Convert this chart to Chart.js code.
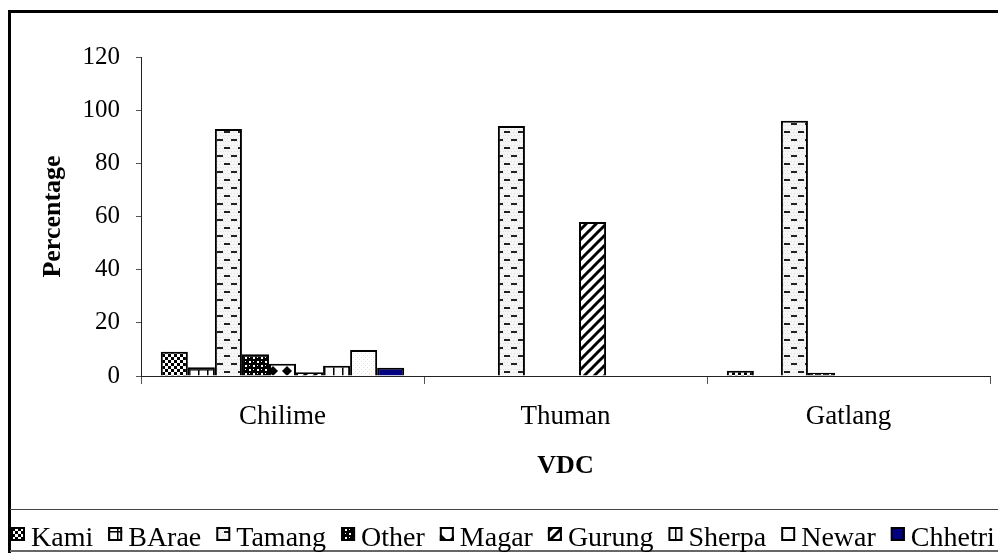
<!DOCTYPE html>
<html><head><meta charset="utf-8">
<script src="https://cdn.jsdelivr.net/npm/chart.js@4/dist/chart.umd.min.js"></script>
<style>html,body{margin:0;padding:0;background:#fff;overflow:hidden}canvas{display:block}</style>
</head><body>
<canvas id="c" width="998" height="553"></canvas>
<script>
// ---- data ----
const categories = ['Chilime', 'Thuman', 'Gatlang'];
const seriesNames = ['Kami', 'BArae', 'Tamang', 'Other', 'Magar', 'Gurung', 'Sherpa', 'Newar', 'Chhetri'];
const kami    = [9.1, null, 2.0];
const barae   = [3.3, null, null];
const tamang  = [92.9, 94.0, 96.0];
const other   = [8.2, null, 1.2];
const magar   = [4.6, null, null];
const gurung  = [1.4, 57.9, null];
const sherpa  = [3.9, null, null];
const newar   = [9.8, null, null];
const chhetri = [3.1, null, null];
const yMin = 0, yMax = 120, yStep = 20;
const xTitle = 'VDC', yTitle = 'Percentage';

const FONT = '"Liberation Serif", "Times New Roman", serif';

function makePattern(w, h, draw) {
  const c = document.createElement('canvas');
  c.width = w; c.height = h;
  const g = c.getContext('2d');
  draw(g, w, h);
  return g.createPattern(c, 'repeat');
}
const pKami = makePattern(6, 6, (g) => {
  g.fillStyle = '#fff'; g.fillRect(0, 0, 6, 6);
  g.fillStyle = '#000'; g.fillRect(0, 0, 3, 3); g.fillRect(3, 3, 3, 3);
});
const pBArae = makePattern(9, 9, (g) => {
  g.fillStyle = '#fff'; g.fillRect(0, 0, 9, 9);
  g.fillStyle = '#000'; g.fillRect(0, 0, 9, 1.5); g.fillRect(0, 0, 1.5, 9);
});
const pTamang = makePattern(14, 16, (g) => {
  g.fillStyle = '#f6f6f6'; g.fillRect(0, 0, 14, 16);
  g.fillStyle = '#ddd';
  for (let y = 1; y < 16; y += 3) for (let x = (y % 2); x < 14; x += 3) g.fillRect(x, y, 1, 1);
  g.fillStyle = '#222'; g.fillRect(0, 3, 6, 2); g.fillRect(7, 11, 6, 2);
});
const pOther = makePattern(8, 8, (g) => {
  g.fillStyle = '#000'; g.fillRect(0, 0, 8, 8);
  g.fillStyle = '#fff'; g.fillRect(1, 1, 2, 2); g.fillRect(5, 5, 2, 2); g.fillRect(5, 1, 1, 1); g.fillRect(1, 5, 1, 1);
});
const pMagar = makePattern(14, 14, (g) => {
  g.fillStyle = '#fff'; g.fillRect(0, 0, 14, 14);
  g.fillStyle = '#000'; g.beginPath();
  g.moveTo(7, 2); g.lineTo(12, 7); g.lineTo(7, 12); g.lineTo(2, 7); g.closePath(); g.fill();
});
const pGurung = makePattern(10, 10, (g) => {
  g.fillStyle = '#fff'; g.fillRect(0, 0, 10, 10);
  g.strokeStyle = '#000'; g.lineWidth = 3;
  for (let o = -10; o <= 10; o += 10) { g.beginPath(); g.moveTo(o - 2, 12); g.lineTo(o + 12, -2); g.stroke(); }
});
const pSherpa = makePattern(9, 4, (g) => {
  g.fillStyle = '#fbfbfb'; g.fillRect(0, 0, 9, 4);
  g.fillStyle = '#000'; g.fillRect(0, 0, 1.5, 4);
});
const pNewar = makePattern(4, 4, (g) => {
  g.fillStyle = '#fff'; g.fillRect(0, 0, 4, 4);
  g.fillStyle = '#e4e4e4'; g.fillRect(1, 1, 1, 1); g.fillRect(3, 3, 1, 1);
});
const fills = [pKami, pBArae, pTamang, pOther, pMagar, pGurung, pSherpa, pNewar, '#000080'];
const values = [kami, barae, tamang, other, magar, gurung, sherpa, newar, chhetri];

const datasets = seriesNames.map((name, i) => ({
  label: name,
  data: values[i],
  backgroundColor: fills[i],
  borderColor: '#000',
  borderWidth: 2,
  borderSkipped: 'start',
  categoryPercentage: 0.86,
  barPercentage: 1.0
}));

const framePlugin = {
  id: 'frame',
  beforeDraw(chart) {
    const ctx = chart.ctx;
    ctx.save(); ctx.fillStyle = '#fff'; ctx.fillRect(0, 0, chart.width, chart.height); ctx.restore();
  },
  afterDraw(chart) {
    const ctx = chart.ctx;
    ctx.save();
    // outer frame
    ctx.fillStyle = '#000';
    ctx.fillRect(8, 10, 3, chart.height - 10);
    ctx.fillRect(8, 10, chart.width - 8, 3);
    // legend box
    ctx.fillStyle = '#444';
    ctx.fillRect(10, 509, chart.width - 10, 1);
    ctx.fillStyle = '#666';
    ctx.fillRect(10, 550, chart.width - 10, 2);
    // legend items
    ctx.font = '28px ' + FONT;
    ctx.textBaseline = 'alphabetic';
    let x = 11;
    chart.data.datasets.forEach((ds) => {
      ctx.fillStyle = ds.backgroundColor;
      ctx.fillRect(x, 527, 14, 14);
      ctx.strokeStyle = '#000'; ctx.lineWidth = 2;
      ctx.strokeRect(x + 1, 528, 12, 12);
      x += 14 + 6;
      ctx.fillStyle = '#000';
      ctx.fillText(ds.label, x, 546);
      x += ctx.measureText(ds.label).width + 15;
    });
    ctx.restore();
  }
};

new Chart(document.getElementById('c'), {
  type: 'bar',
  data: { labels: categories, datasets },
  options: {
    responsive: false,
    animation: false,
    devicePixelRatio: 1,
    layout: { padding: { left: 0, right: 8, top: 57, bottom: 67 } },
    plugins: { legend: { display: false }, tooltip: { enabled: false } },
    scales: {
      x: {
        offset: true,
        grid: { display: true, drawOnChartArea: false, offset: true, tickLength: 8, color: '#555', lineWidth: 1 },
        border: { display: true, color: '#222', width: 1 },
        ticks: { color: '#000', font: { family: FONT, size: 27 }, padding: 17 },
        title: { display: true, text: xTitle, color: '#000', font: { family: FONT, size: 26, weight: 'bold' }, padding: { top: 0, bottom: 4 } },
        afterFit(scale) { scale.height = 110; }
      },
      y: {
        min: yMin, max: yMax,
        ticks: { stepSize: yStep, color: '#000', font: { family: FONT, size: 25 }, padding: 16 },
        grid: { display: true, drawOnChartArea: false, tickLength: 5, color: '#555', lineWidth: 1 },
        border: { display: true, color: '#222', width: 1 },
        title: { display: true, text: yTitle, color: '#000', font: { family: FONT, size: 26, weight: 'bold' }, padding: { top: 38, bottom: 0 } },
        afterFit(scale) { scale.width = 141; }
      }
    }
  },
  plugins: [framePlugin]
});
</script>
</body></html>
